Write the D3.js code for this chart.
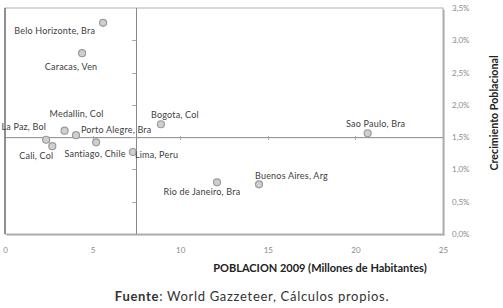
<!DOCTYPE html>
<html><head><meta charset="utf-8">
<script src="https://cdn.jsdelivr.net/npm/d3@7"></script>
<style>
body{margin:0;background:#fff;}
svg{display:block;font-family:Lato, "Open Sans", sans-serif;}
</style></head>
<body><div id="chart"></div>
<script>
const cities = ["Belo Horizonte, Bra","Caracas, Ven","Medallin, Col","Porto Alegre, Bra","La Paz, Bol","Cali, Col","Santiago, Chile","Lima, Peru","Bogota, Col","Rio de Janeiro, Bra","Buenos Aires, Arg","Sao Paulo, Bra"];
const poblacion = [5.6, 4.4, 3.4, 4.05, 2.35, 2.7, 5.2, 7.3, 8.9, 12.1, 14.5, 20.7];
const crecimiento = [3.27, 2.80, 1.60, 1.53, 1.46, 1.36, 1.42, 1.27, 1.70, 0.80, 0.77, 1.56];
const xTicks = [0, 5, 10, 15, 20, 25];
const yTicks = [0, 0.5, 1.0, 1.5, 2.0, 2.5, 3.0, 3.5];
const xTitle = "POBLACION 2009 (Millones de Habitantes)";
const yTitle = "Crecimiento Poblacional";
const sourceBold = "Fuente";
const sourceText = ": World Gazzeteer, Cálculos propios.";
const crossX = 7.5, crossY = 1.5;

// label layout (offsets from point), anchor
const labelLayout = {
  "Belo Horizonte, Bra": [-8, 11, "end"],
  "Caracas, Ven": [-11, 17, "middle"],
  "Medallin, Col": [12, -14, "middle"],
  "Porto Alegre, Bra": [5, -2, "start"],
  "La Paz, Bol": [0, -10, "end"],
  "Cali, Col": [-16, 13, "middle"],
  "Santiago, Chile": [-1, 15, "middle"],
  "Lima, Peru": [2, 6, "start"],
  "Bogota, Col": [14, -6, "middle"],
  "Rio de Janeiro, Bra": [-15, 13, "middle"],
  "Buenos Aires, Arg": [-4, -5, "start"],
  "Sao Paulo, Bra": [8, -6, "middle"]
};

const W = 503, H = 308;
const svg = d3.select("#chart").append("svg").attr("width", W).attr("height", H);
const x = d3.scaleLinear().domain([0, 25]).range([5, 443]);
const y = d3.scaleLinear().domain([0, 3.5]).range([234, 8]);

// plot frame with shadow
svg.append("rect").attr("x", x(0)+2).attr("y", y(3.5)+2).attr("width", x(25)-x(0)).attr("height", y(0)-y(3.5))
  .attr("fill", "#cfcfcf");
svg.append("rect").attr("x", x(0)+1).attr("y", y(3.5)+1).attr("width", x(25)-x(0)).attr("height", y(0)-y(3.5))
  .attr("fill", "#a8a8a8");
svg.append("rect").attr("x", x(0)).attr("y", y(3.5)).attr("width", x(25)-x(0)).attr("height", y(0)-y(3.5))
  .attr("fill", "#fff").attr("stroke", "#b0b0b0").attr("stroke-width", 1);
svg.append("line").attr("x1", x(0)).attr("x2", x(0)).attr("y1", y(3.5)).attr("y2", y(0))
  .attr("stroke", "#909090").attr("stroke-width", 2);

// crossing axes
const g = svg.append("g");
g.append("line").attr("x1", x(0)).attr("x2", x(25)).attr("y1", y(crossY)+0.5).attr("y2", y(crossY)+0.5)
  .attr("stroke", "#888").attr("stroke-width", 1);
g.append("line").attr("x1", Math.round(x(crossX))+0.5).attr("x2", Math.round(x(crossX))+0.5).attr("y1", y(3.5)).attr("y2", y(0))
  .attr("stroke", "#888").attr("stroke-width", 1);
g.selectAll(".yt").data(yTicks.filter(d => d > 0 && d < 3.5)).enter().append("line")
  .attr("x1", Math.round(x(crossX))-4).attr("x2", Math.round(x(crossX))+0.5)
  .attr("y1", d => Math.round(y(d))+0.5).attr("y2", d => Math.round(y(d))+0.5)
  .attr("stroke", "#aaa");
g.selectAll(".xt").data(xTicks.filter(d => d > 0 && d < 25)).enter().append("line")
  .attr("x1", d => Math.round(x(d))+0.5).attr("x2", d => Math.round(x(d))+0.5)
  .attr("y1", y(crossY)-1).attr("y2", y(crossY)+3)
  .attr("stroke", "#aaa");

// tick labels via axes
const fmt = d => d3.format(".1f")(d).replace(".", ",") + "%";
const yAxis = svg.append("g").attr("transform", `translate(${x(25)},0)`)
  .call(d3.axisRight(y).tickValues(yTicks).tickSize(0).tickPadding(9).tickFormat(fmt));
const xAxis = svg.append("g").attr("transform", `translate(0,${y(0)})`)
  .call(d3.axisBottom(x).tickValues(xTicks).tickSize(0).tickPadding(13).tickFormat(d3.format("d")));
[yAxis, xAxis].forEach(a => {
  a.select(".domain").remove();
  a.selectAll("text").attr("fill", "#8a8a8a").style("font-size", "8px").style("font-family", "Lato, sans-serif");
});

// points
const data = cities.map((c, i) => ({c, px: poblacion[i], gy: crecimiento[i]}));
svg.selectAll("circle.pt").data(data).enter().append("circle")
  .attr("class", "pt")
  .attr("cx", d => x(d.px)).attr("cy", d => y(d.gy)).attr("r", 3.5)
  .attr("fill", "#cfcfcf").attr("stroke", "#9a9a9a").attr("stroke-width", 1.2);
svg.selectAll("text.lbl").data(data).enter().append("text")
  .attr("class", "lbl")
  .attr("x", d => x(d.px) + labelLayout[d.c][0])
  .attr("y", d => y(d.gy) + labelLayout[d.c][1])
  .attr("text-anchor", d => labelLayout[d.c][2])
  .attr("fill", "#404040").style("font-size", "9px").style("letter-spacing", "0.2px")
  .text(d => d.c);

// titles
svg.append("text").attr("x", 320).attr("y", 272).attr("text-anchor", "middle")
  .style("font-size", "11px").style("font-weight", "bold").attr("fill", "#222").text(xTitle);
svg.append("text").attr("transform", "translate(498,113) rotate(-90)").attr("text-anchor", "middle")
  .style("font-size", "10.7px").style("font-weight", "bold").attr("fill", "#222").text(yTitle);
const src = svg.append("text").attr("x", 252).attr("y", 301).attr("text-anchor", "middle")
  .style("font-size", "13px").style("letter-spacing", "0.7px").attr("fill", "#333");
src.append("tspan").style("font-weight", "bold").text(sourceBold);
src.append("tspan").text(sourceText);
</script></body></html>
